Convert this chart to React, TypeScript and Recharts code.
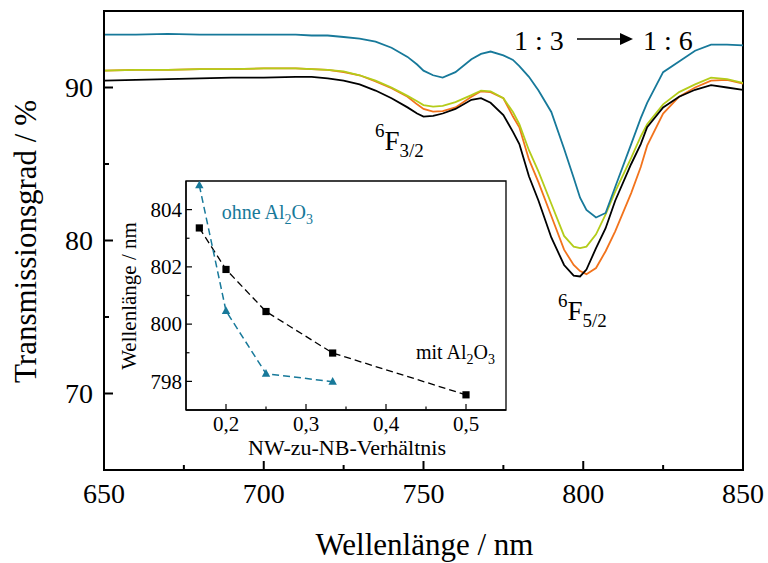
import React from 'react';
import { LineChart, Line, XAxis, YAxis, ReferenceArea } from 'recharts';

const SERIF = "'Liberation Serif', 'Times New Roman', serif";
const TEAL = '#17799a';
const ORANGE = '#f2731c';
const LIME = '#b4cc1a';

// Main spectra (Wellenlänge in nm, Transmissionsgrad in %)
const wavelengths = [650, 660, 670, 680, 690, 700, 710, 715, 720, 725, 730, 735, 740, 745, 748, 750, 753, 756, 760, 765, 768, 771, 775, 778, 780, 783, 786, 790, 794, 797, 799, 801, 804, 807, 810, 815, 818, 820, 825, 830, 835, 840, 845, 850];
const transBlue = [93.45, 93.45, 93.5, 93.45, 93.45, 93.45, 93.45, 93.4, 93.4, 93.3, 93.2, 93.0, 92.6, 92.0, 91.5, 91.1, 90.8, 90.65, 91.0, 91.85, 92.2, 92.35, 92.1, 91.8, 91.4, 90.7, 89.8, 88.4, 86.0, 84.1, 82.8, 82.0, 81.5, 81.8, 83.5, 86.3, 88.0, 89.0, 91.0, 91.7, 92.4, 92.8, 92.8, 92.75];
const transOrange = [91.1, 91.15, 91.15, 91.2, 91.2, 91.25, 91.25, 91.2, 91.15, 91.0, 90.8, 90.4, 89.95, 89.4, 88.9, 88.6, 88.42, 88.45, 88.7, 89.4, 89.75, 89.7, 89.3, 88.1, 87.4, 85.3, 83.8, 81.6, 79.4, 78.4, 78.0, 77.8, 78.2, 79.3, 80.6, 83.1, 84.8, 86.2, 88.3, 89.4, 90.0, 90.45, 90.5, 90.25];
const transLime = [91.1, 91.15, 91.15, 91.2, 91.2, 91.25, 91.25, 91.2, 91.15, 91.05, 90.8, 90.45, 90.0, 89.45, 89.1, 88.85, 88.75, 88.8, 89.05, 89.5, 89.8, 89.75, 89.3, 88.4, 87.6, 85.9, 84.5, 82.4, 80.3, 79.6, 79.5, 79.6, 80.4, 81.7, 83.2, 85.4, 86.8, 87.6, 88.9, 89.7, 90.2, 90.65, 90.55, 90.3];
const transBlack = [90.45, 90.5, 90.55, 90.6, 90.65, 90.65, 90.7, 90.7, 90.6, 90.45, 90.2, 89.8, 89.3, 88.7, 88.3, 88.1, 88.15, 88.3, 88.6, 89.2, 89.3, 89.0, 88.2, 87.1, 86.3, 84.2, 82.6, 80.2, 78.4, 77.7, 77.65, 78.1, 79.5, 80.8, 82.6, 85.0, 86.3, 87.4, 88.7, 89.4, 89.85, 90.15, 90.0, 89.85];

const xTicks = [650, 675, 700, 725, 750, 775, 800, 825, 850];
const xTickLabels = [650, 700, 750, 800, 850];
const yTicks = [70, 75, 80, 85, 90];
const yTickLabels = [70, 80, 90];

// Inset (NW-zu-NB-Verhältnis vs. Wellenlänge)
const ratiosMit = [1 / 6, 0.2, 0.25, 1 / 3, 0.5];
const peakMit = [803.36, 801.91, 800.44, 798.99, 797.53];
const ratiosOhne = [1 / 6, 0.2, 0.25, 1 / 3];
const peakOhne = [804.85, 800.46, 798.27, 797.99];
const insetXTicks = [0.2, 0.25, 0.3, 0.35, 0.4, 0.45, 0.5];
const insetXLabels = ['0,2', '', '0,3', '', '0,4', '', '0,5'];
const insetYTicks = [798, 799, 800, 801, 802, 803, 804];
const insetYLabels = [798, 800, 802, 804];

const spectra = wavelengths.map((w, i) => ({
  w,
  blue: transBlue[i],
  orange: transOrange[i],
  lime: transLime[i],
  black: transBlack[i],
}));
const mitData = ratiosMit.map((r, i) => ({ r, p: peakMit[i] }));
const ohneData = ratiosOhne.map((r, i) => ({ r, p: peakOhne[i] }));

const MainXTick = (props: any) => {
  const { x, y, payload } = props;
  const major = xTickLabels.includes(payload.value);
  return (
    <g>
      <line x1={x} y1={y} x2={x} y2={y - (major ? 9 : 5)} stroke="#000" strokeWidth={2} />
      {major && (
        <text x={x} y={y + 33} textAnchor="middle" fontSize={28} fontFamily={SERIF} fill="#000">
          {payload.value}
        </text>
      )}
    </g>
  );
};

const MainYTick = (props: any) => {
  const { x, y, payload } = props;
  const major = yTickLabels.includes(payload.value);
  return (
    <g>
      <line x1={x} y1={y} x2={x + (major ? 9 : 5)} y2={y} stroke="#000" strokeWidth={2} />
      {major && (
        <text x={x - 11} y={y} dy="0.34em" textAnchor="end" fontSize={28} fontFamily={SERIF} fill="#000">
          {payload.value}
        </text>
      )}
    </g>
  );
};

const InsetXTick = (props: any) => {
  const { x, y, payload, index } = props;
  const label = insetXLabels[index] ?? '';
  const major = label !== '';
  return (
    <g>
      <line x1={x} y1={y} x2={x} y2={y - (major ? 6 : 3.5)} stroke="#000" strokeWidth={1.2} />
      {major && (
        <text x={x} y={y + 21} textAnchor="middle" fontSize={21} fontFamily={SERIF} fill="#000">
          {label}
        </text>
      )}
    </g>
  );
};

const InsetYTick = (props: any) => {
  const { x, y, payload } = props;
  const major = insetYLabels.includes(payload.value);
  return (
    <g>
      <line x1={x} y1={y} x2={x + (major ? 6 : 3.5)} y2={y} stroke="#000" strokeWidth={1.2} />
      {major && (
        <text x={x - 4} y={y} dy="0.34em" textAnchor="end" fontSize={21} fontFamily={SERIF} fill="#000">
          {payload.value}
        </text>
      )}
    </g>
  );
};

const SquareDot = (p: any) => (
  <rect key={`sq-${p.index}`} x={p.cx - 3.6} y={p.cy - 3.6} width={7.2} height={7.2} fill="#000" />
);
const TriangleDot = (p: any) => (
  <path
    key={`tr-${p.index}`}
    d={`M${p.cx},${p.cy - 4.6}L${p.cx + 4.2},${p.cy + 3}L${p.cx - 4.2},${p.cy + 3}Z`}
    fill={TEAL}
  />
);

export default function App() {
  return (
    <div style={{ position: 'absolute', left: 0, top: 0, width: 768, height: 563, background: '#fff' }}>
      <div style={{ position: 'absolute', left: 0, top: 0 }}>
        <LineChart width={768} height={563} data={spectra} margin={{ top: 11, right: 25, bottom: 53, left: 44 }}>
          <XAxis
            dataKey="w"
            type="number"
            domain={[650, 850]}
            ticks={xTicks}
            interval={0}
            tick={(p: any) => <MainXTick {...p} />}
            tickLine={false}
            tickSize={0}
            tickMargin={0}
            axisLine={{ stroke: '#000', strokeWidth: 2 }}
            height={40}
            allowDataOverflow
          />
          <YAxis
            type="number"
            domain={[65, 95]}
            ticks={yTicks}
            interval={0}
            tick={(p: any) => <MainYTick {...p} />}
            tickLine={false}
            tickSize={0}
            tickMargin={0}
            axisLine={{ stroke: '#000', strokeWidth: 2 }}
            width={60}
            allowDataOverflow
          />
          <ReferenceArea x1={650} x2={850} y1={65} y2={95} fill="#fff" fillOpacity={0} stroke="#000" strokeWidth={2} />
          <Line type="linear" dataKey="orange" stroke={ORANGE} strokeWidth={1.8} dot={false} isAnimationActive={false} />
          <Line type="linear" dataKey="lime" stroke={LIME} strokeWidth={1.8} dot={false} isAnimationActive={false} />
          <Line type="linear" dataKey="black" stroke="#000" strokeWidth={1.8} dot={false} isAnimationActive={false} />
          <Line type="linear" dataKey="blue" stroke={TEAL} strokeWidth={1.8} dot={false} isAnimationActive={false} />
        </LineChart>
      </div>
      <div style={{ position: 'absolute', left: 100, top: 160 }}>
        <LineChart width={420} height={310} margin={{ top: 21, right: 14, bottom: 20, left: 26 }}>
          <XAxis
            dataKey="r"
            type="number"
            domain={[0.15, 0.55]}
            ticks={insetXTicks}
            interval={0}
            tick={(p: any) => <InsetXTick {...p} />}
            tickLine={false}
            tickSize={0}
            tickMargin={0}
            axisLine={{ stroke: '#000', strokeWidth: 1.3 }}
            height={40}
            allowDataOverflow
          />
          <YAxis
            type="number"
            domain={[797, 805]}
            ticks={insetYTicks}
            interval={0}
            tick={(p: any) => <InsetYTick {...p} />}
            tickLine={false}
            tickSize={0}
            tickMargin={0}
            axisLine={{ stroke: '#000', strokeWidth: 1.3 }}
            width={60}
            allowDataOverflow
          />
          <ReferenceArea x1={0.15} x2={0.55} y1={797} y2={805} fill="#fff" fillOpacity={0} stroke="#000" strokeWidth={1.3} />
          <Line
            data={mitData}
            dataKey="p"
            type="linear"
            stroke="#000"
            strokeWidth={1.3}
            strokeDasharray="7 4"
            dot={SquareDot}
            isAnimationActive={false}
          />
          <Line
            data={ohneData}
            dataKey="p"
            type="linear"
            stroke={TEAL}
            strokeWidth={1.5}
            strokeDasharray="7 4"
            dot={TriangleDot}
            isAnimationActive={false}
          />
        </LineChart>
      </div>
      <svg
        width={768}
        height={563}
        style={{ position: 'absolute', left: 0, top: 0, pointerEvents: 'none' }}
        fontFamily={SERIF}
      >
        <text transform="translate(36,241.5) rotate(-90)" textAnchor="middle" fontSize={31} fill="#000">
          Transmissionsgrad / %
        </text>
        <text x={424.5} y={555} textAnchor="middle" fontSize={31} fill="#000">
          Wellenlänge / nm
        </text>
        <text x={375} y={150} fontSize={27} fill="#000">
          <tspan fontSize={19} dy={-13}>6</tspan>
          <tspan dy={13}>F</tspan>
          <tspan fontSize={19} dy={7}>3/2</tspan>
        </text>
        <text x={558} y={320} fontSize={27} fill="#000">
          <tspan fontSize={19} dy={-13}>6</tspan>
          <tspan dy={13}>F</tspan>
          <tspan fontSize={19} dy={7}>5/2</tspan>
        </text>
        <text x={514} y={50} fontSize={28} fill="#000">1 : 3</text>
        <line x1={577} y1={39} x2={621} y2={39} stroke="#000" strokeWidth={1.5} />
        <path d="M620,33L633,39L620,45Z" fill="#000" />
        <text x={643} y={50} fontSize={28} fill="#000">1 : 6</text>
        <text transform="translate(136,296) rotate(-90)" textAnchor="middle" fontSize={21} fill="#000">
          Wellenlänge / nm
        </text>
        <text x={347} y={455} textAnchor="middle" fontSize={22} fill="#000">
          NW-zu-NB-Verhältnis
        </text>
        <text x={221.7} y={219} fontSize={20} fill={TEAL}>
          ohne Al
          <tspan fontSize={14} dy={5}>2</tspan>
          <tspan dy={-5}>O</tspan>
          <tspan fontSize={14} dy={5}>3</tspan>
        </text>
        <text x={416} y={359} fontSize={20} fill="#000">
          mit Al
          <tspan fontSize={14} dy={5}>2</tspan>
          <tspan dy={-5}>O</tspan>
          <tspan fontSize={14} dy={5}>3</tspan>
        </text>
      </svg>
    </div>
  );
}
